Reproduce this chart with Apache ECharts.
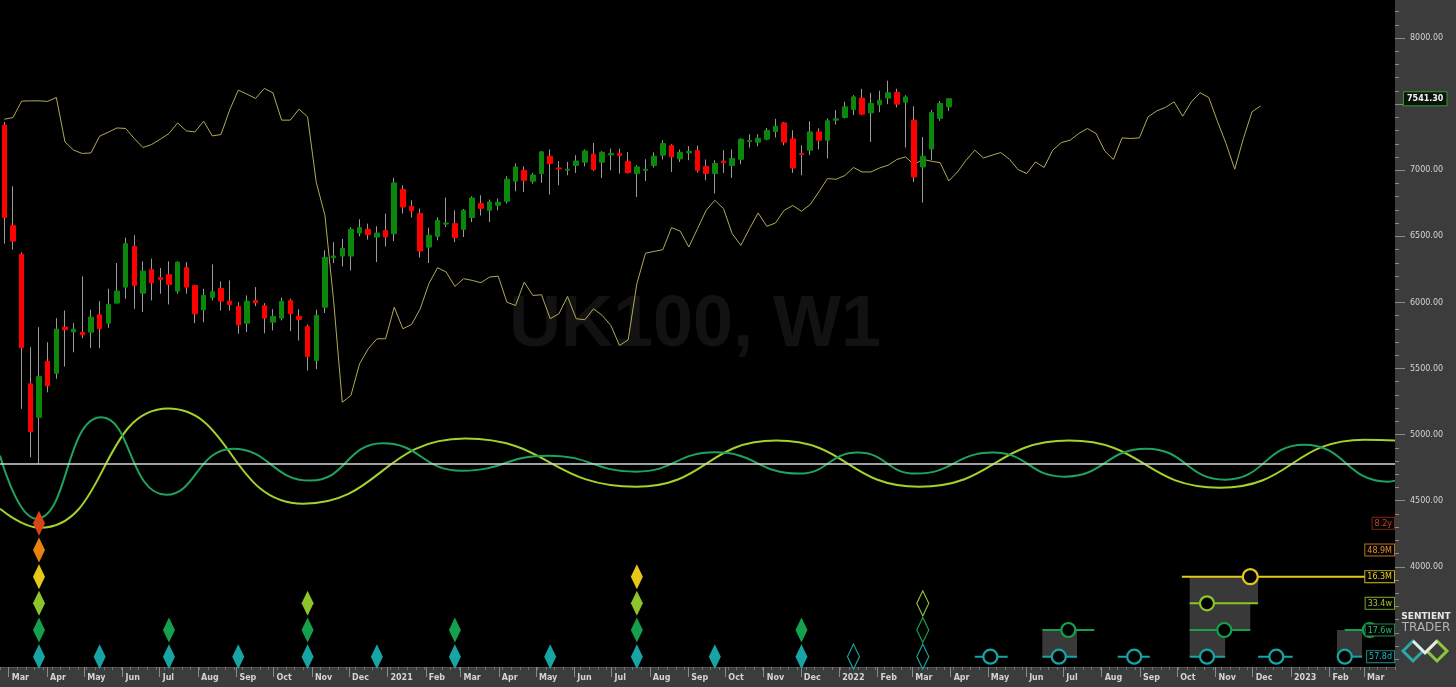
<!DOCTYPE html>
<html><head><meta charset="utf-8">
<script src="https://cdn.jsdelivr.net/npm/echarts@6/dist/echarts.min.js"></script>
<style>html,body{margin:0;padding:0;background:#000;overflow:hidden}#c{width:1456px;height:687px}</style>
</head><body><div id="c"></div>
<script>
// ---------- DATA ----------
const startDate = Date.UTC(2020, 1, 23); // first weekly bar (week of 23 Feb 2020)
const weekCount = 161;

const opens = [7341,6581,6364,5384,5131,5555,5464,5813,5778,5775,
5775,5907,5843,5995,6116,6424,6070,6248,6187,6210,
6086,6263,6127,5945,6038,6106,6010,5970,5843,6015,
5975,5851,5881,6013,5896,5818,5561,5964,6339,6351,
6351,6525,6553,6495,6545,6520,6854,6727,6672,6419,
6500,6593,6596,6553,6642,6748,6697,6735,6765,6917,
7000,6917,6975,7106,7017,7000,7036,7061,7121,7061,
7116,7127,7068,6975,7000,7036,7114,7187,7086,7131,
7149,7030,6975,7070,7036,7083,7217,7212,7235,7293,
7358,7237,7127,7152,7290,7227,7379,7399,7460,7546,
7434,7495,7546,7589,7515,7379,7025,7161,7392,7480];
const closes = [6642,6464,5657,5023,5439,5369,5798,5793,5798,5755,
5889,5801,5985,6086,6445,6129,6237,6149,6174,6136,
6305,6116,5914,6053,6081,6010,5983,5831,6010,5998,
5881,5894,6008,5914,5871,5591,5902,6341,6351,6409,
6553,6566,6513,6525,6495,6904,6722,6692,6389,6508,
6621,6601,6490,6697,6790,6712,6760,6758,6932,7025,
6924,6964,7139,7051,7010,7008,7070,7146,7005,7136,
7127,7111,6983,7025,7008,7106,7202,7101,7136,7142,
7000,6975,7051,7058,7089,7235,7225,7242,7301,7333,
7212,7017,7119,7290,7227,7374,7389,7480,7555,7424,
7505,7530,7586,7500,7555,6949,7106,7437,7505,7541.3];
const highs = [7364,6879,6379,5661,5813,5699,5881,5939,5843,6197,
5945,6010,6104,6298,6490,6508,6311,6331,6260,6311,
6311,6305,6129,6104,6288,6159,6167,6002,6053,6116,
5995,5949,6036,6028,5949,5833,5945,6394,6457,6480,
6568,6629,6596,6576,6672,6942,6886,6773,6710,6566,
6644,6793,6697,6707,6803,6811,6778,6786,6955,7051,
7030,6980,7146,7157,7070,7063,7114,7157,7207,7144,
7164,7164,7139,7038,7083,7136,7227,7197,7157,7182,
7187,7081,7076,7152,7157,7242,7273,7273,7320,7389,
7366,7303,7189,7371,7318,7392,7455,7518,7568,7616,
7586,7601,7677,7616,7568,7485,7252,7455,7523,7546];
const lows = [6445,6399,5195,4828,4778,5320,5422,5515,5623,5730,
5654,5654,5808,5992,6028,5952,5927,6015,6066,5985,
6066,6066,5843,5851,6015,5939,5939,5763,5775,5972,
5767,5788,5864,5783,5712,5485,5495,5920,6298,6273,
6242,6500,6475,6305,6424,6464,6672,6642,6339,6298,
6470,6571,6457,6495,6608,6657,6608,6697,6748,6841,
6836,6899,6904,6816,6886,6962,6980,7030,6995,6942,
7000,6975,6975,6798,6919,7021,7081,6987,7063,7076,
6983,6924,6824,6980,6942,7045,7172,7182,7227,7248,
7189,6980,6962,7114,7157,7089,7346,7392,7417,7417,
7214,7439,7500,7475,7172,6911,6755,7076,7374,7449];

// thin khaki projection line (one value per week)
const projLine = [7386,7399,7523,7525,7525,7521,7551,7214,7152,7127,
7131,7258,7288,7320,7316,7240,7172,7195,7235,7278,
7358,7298,7290,7371,7260,7270,7455,7606,7576,7543,
7619,7586,7379,7379,7462,7404,6909,6659,6015,5245,
5296,5536,5649,5725,5725,5964,5801,5833,5952,6142,
6263,6230,6121,6180,6167,6149,6192,6199,6002,5977,
6154,6053,6058,5877,5914,6045,5877,5869,5952,5902,
5826,5674,5717,6142,6373,6386,6399,6566,6540,6419,
6558,6697,6773,6710,6520,6432,6558,6677,6576,6601,
6697,6733,6690,6740,6836,6937,6932,6960,7021,6987,
6987,7017,7038,7081,7101,7043,7083,7068,7058,6919,
6987,7076,7152,7093,7114,7134,7083,7005,6975,7063,
7021,7152,7210,7227,7278,7316,7278,7146,7081,7245,
7240,7245,7404,7449,7475,7518,7409,7518,7586,7551,
7371,7202,7008,7240,7442,7487];

// cycle curves: [week, level] peaks and troughs
const cycle334w = [[-0.5,4439],[4.1,4295],[18.9,5197],[34.5,4477],[53.2,4970],[72.9,4606],[89.1,4955],[105.6,4606],[122.9,4955],[140.3,4598],[157.0,4962],[160.5,4955]];
const cycle176w = [[-0.5,4841],[3.7,4364],[11.2,5131],[18.7,4545],[26.4,4894],[35.3,4652],[43.7,4934],[52.8,4727],[62.8,4841],[72.9,4720],[82.0,4866],[91.7,4705],[98.5,4864],[105.2,4705],[114.1,4864],[122.3,4682],[131.8,4894],[140.9,4659],[150.0,4924],[159.7,4644],[160.5,4652]];
const cycleZero = 4780;

// price axis
const priceMin = 3242, priceMax = 8288;
const priceLabels = [4000,4500,5000,5500,6000,6500,7000,7500,8000];
const priceMinorTicks = [3300,3400,3500,3600,3700,3800,3900,4000,4100,4200,4300,4400,4500,4600,4700,4800,4900,5000,
  5100,5200,5300,5400,5500,5600,5700,5800,5900,6000,6100,6200,6300,6400,6500,6600,6700,6800,6900,7000,
  7100,7200,7300,7400,7500,7600,7700,7800,7900,8000,8100,8200];

// cycle rows
const cycleNames = ['8.2y','48.9M','16.3M','33.4w','17.6w','57.8d'];
const cycleColors = ['#d8431a','#e8820f','#e6c81a','#8cc42a','#14a04c','#18a4a4'];
const labelText = ['#c8441c','#e8902a','#e8d020','#9ccc30','#2ab866','#22b4b4'];
const labelBorder = ['#7a2412','#b8741c','#c8b018','#78a828','#1c8a4c','#1a8a8a'];

// trough diamonds (week index) per cycle row
const troughs = {
  '8.2y':[4], '48.9M':[4], '16.3M':[4,73], '33.4w':[4,35,73],
  '17.6w':[4,19,35,52,73,92], '57.8d':[4,11,19,27,35,43,52,63,73,82,92]
};
const troughsHollow = {'33.4w':[106], '17.6w':[106], '57.8d':[98,106]};

// projected troughs: [centre, from, to] in week units
const projected = {
  '16.3M':[[143.8,135.9,160.5]],
  '33.4w':[[138.8,136.8,144.7]],
  '17.6w':[[122.8,119.8,125.8],[140.8,136.8,143.8],[157.6,154.7,160.5]],
  '57.8d':[[113.8,112.0,115.8],[121.7,119.8,123.8],[130.4,128.5,132.2],[138.8,136.8,140.9],[146.8,144.7,148.7],[154.7,153.8,156.7]]
};
// shaded projection boxes: [upper row, lower row, from, to]
const projBoxes = [
  ['16.3M','33.4w',136.8,144.7],
  ['33.4w','17.6w',136.8,143.8],
  ['17.6w','57.8d',136.8,140.9],
  ['17.6w','57.8d',153.8,156.7],
  ['17.6w','57.8d',119.8,123.8]
];
const monthNames = ['Jan','Feb','Mar','Apr','May','Jun','Jul','Aug','Sep','Oct','Nov','Dec'];

// ---------- BUILD ----------
const DAY = 86400000;
const weekLabels = Array.from({length: weekCount}, (_, i) => new Date(startDate + i*7*DAY).toISOString().slice(0,10));
const monthStarts = [];
for (let y = 2020, m = 2; ; ) {
  const d = (Date.UTC(y, m, 1) - startDate) / DAY;
  if (d > weekCount*7) break;
  monthStarts.push(d);
  m++; if (m > 11) { m = 0; y++; }
}
const monthLabel = v => {
  const dt = new Date(startDate + Math.round(v)*DAY);
  return dt.getUTCMonth() === 0 ? String(dt.getUTCFullYear()) : monthNames[dt.getUTCMonth()];
};
const ohlc = opens.map((o, i) => [o, closes[i], lows[i], highs[i]]);
const bodies = opens.map((o, i) => [o, closes[i], Math.min(o, closes[i]), Math.max(o, closes[i])]);

const rich = {};
cycleNames.forEach((n, i) => {
  rich['c'+i] = {color: labelText[i], borderColor: labelBorder[i], borderWidth: 1, backgroundColor: '#050505',
    padding: [2,2,1,2], fontSize: 8, fontFamily: 'DejaVu Sans', lineHeight: 10};
});

const series = [];
series.push({type:'candlestick', name:'wicks', xAxisIndex:0, yAxisIndex:0, data: ohlc, barWidth:1, z:2,
  itemStyle:{color:'#9a9a9a', color0:'#9a9a9a', borderColor:'#9a9a9a', borderColor0:'#9a9a9a', borderWidth:1}});
series.push({type:'candlestick', name:'bodies', xAxisIndex:0, yAxisIndex:0, data: bodies, barWidth:5, z:5,
  itemStyle:{color:'#0b870b', color0:'#ff0000', borderColor:'#0b870b', borderColor0:'#ff0000', borderWidth:1},
  markLine:{silent:true, symbol:['none','none'], lineStyle:{width:1, color:'rgba(0,0,0,0)', type:'solid'},
    label:{show:true, position:'end', distance:9, formatter: p => Number(p.value).toFixed(2),
      color:'#f2f2f2', fontSize:8, fontFamily:'DejaVu Sans', fontWeight:'bold', backgroundColor:'#0a140a',
      borderColor:'#2f9a2f', borderWidth:1, padding:[3,3,2,3]},
    data:[{yAxis: closes[closes.length-1]}]}});
series.push({type:'line', name:'proj', xAxisIndex:0, yAxisIndex:0, data: projLine, symbol:'none', z:2,
  lineStyle:{color:'#b2a85a', width:1}});
series.push({type:'line', name:'zero', xAxisIndex:3, yAxisIndex:0, data: [], z:2,
  markLine:{silent:true, symbol:['none','none'], label:{show:false}, lineStyle:{color:'#d4d4d4', width:1.5, type:'solid'},
    data:[{yAxis: cycleZero}]}});
series.push({type:'line', name:'33.4w', xAxisIndex:3, yAxisIndex:0, data: cycle334w, smooth:0.5, symbol:'none', z:3,
  lineStyle:{color:'#a4d22c', width:2}});
series.push({type:'line', name:'17.6w', xAxisIndex:3, yAxisIndex:0, data: cycle176w, smooth:0.5, symbol:'none', z:3,
  lineStyle:{color:'#1ea35c', width:2}});
// projection boxes
series.push({type:'scatter', name:'boxes', xAxisIndex:2, yAxisIndex:2, data: [], z:1,
  markArea:{silent:true, itemStyle:{color:'#393939'},
    data: projBoxes.map(b => [{coord:[b[2], b[0]]}, {coord:[b[3], b[1]]}])}});
// projection ranges, circles and trough diamonds
cycleNames.forEach((n, ri) => {
  const list = projected[n] || [];
  list.forEach(p => {
    series.push({type:'line', xAxisIndex:2, yAxisIndex:2, data:[[p[1], n],[p[2], n]], symbol:'none', z:4,
      lineStyle:{color: cycleColors[ri], width:2}});
  });
  if (list.length) series.push({type:'scatter', xAxisIndex:2, yAxisIndex:2, data: list.map(p => [p[0], n]), z:5,
    symbol:'circle', symbolSize: n === '16.3M' ? 15 : 14,
    itemStyle:{color:'#000', borderColor: cycleColors[ri], borderWidth:2.2, opacity:1}});
  if (troughs[n]) series.push({type:'scatter', xAxisIndex:2, yAxisIndex:2, data: troughs[n].map(x => [x, n]), z:6,
    symbol:'diamond', symbolSize:[12,25], itemStyle:{color: cycleColors[ri], opacity:1}});
  if (troughsHollow[n]) series.push({type:'scatter', xAxisIndex:2, yAxisIndex:2, data: troughsHollow[n].map(x => [x, n]), z:6,
    symbol:'diamond', symbolSize:[12,25], itemStyle:{color:'rgba(0,0,0,0)', borderColor: cycleColors[ri], borderWidth:1.3, opacity:1}});
});

const option = {
  backgroundColor:'#000',
  animation:false,
  grid:[
    {left:0, right:61, top:0, bottom:20},
    {left:0, right:61, top:510, height:160}
  ],
  xAxis:[
    {type:'category', gridIndex:0, data: weekLabels, boundaryGap:true, position:'bottom', z:3,
      axisLine:{show:false, onZero:false}, axisTick:{show:true, interval:0, length:3, lineStyle:{color:'#767676'}},
      axisLabel:{show:false}, splitLine:{show:false}},
    {type:'value', gridIndex:0, min:0, max: weekCount*7, position:'bottom', z:3,
      axisLine:{show:true, onZero:false, lineStyle:{color:'#555'}},
      axisTick:{show:true, customValues: monthStarts, length:10, lineStyle:{color:'#8a8a8a'}},
      axisLabel:{show:true, customValues: monthStarts, formatter: monthLabel, align:'left', padding:[0,0,0,3], margin:7,
        color:'#d4d4d4', fontSize:8, fontWeight:'bold', fontFamily:'DejaVu Sans'},
      splitLine:{show:false}},
    {type:'value', gridIndex:1, show:false, min:-0.5, max: weekCount-0.5, axisLine:{onZero:false}},
    {type:'value', gridIndex:0, show:false, min:-0.5, max: weekCount-0.5, axisLine:{onZero:false}}
  ],
  yAxis:[
    {type:'value', gridIndex:0, show:false, min:priceMin, max:priceMax, axisLine:{onZero:false}},
    {type:'value', gridIndex:0, position:'right', offset:0, min:priceMin, max:priceMax, z:2,
      axisLine:{show:false, onZero:false},
      axisTick:{show:true, customValues: priceMinorTicks, length:4, lineStyle:{color:'#8a8a8a'}},
      axisLabel:{show:false}, splitLine:{show:false}},
    {type:'category', gridIndex:1, data: cycleNames, inverse:true, position:'right', z:8,
      axisLine:{show:false, onZero:false}, axisTick:{show:false}, splitLine:{show:false},
      axisLabel:{inside:true, margin:1, formatter:(v, i) => '{c'+i+'|'+v+'}', rich: rich}},
    {type:'value', gridIndex:0, position:'right', offset:0, min:priceMin, max:priceMax, z:2,
      axisLine:{show:false, onZero:false},
      axisTick:{show:true, customValues: priceLabels, length:10, lineStyle:{color:'#8a8a8a'}},
      axisLabel:{show:true, customValues: priceLabels, margin:15, color:'#d4d4d4', fontSize:8, fontFamily:'DejaVu Sans',
        formatter: v => Number(v).toFixed(2)},
      splitLine:{show:false}}
  ],
  graphic:[
    {type:'rect', z:0, silent:true, shape:{x:1395, y:0, width:61, height:687}, style:{fill:'#3c3c3c'}},
    {type:'rect', z:0, silent:true, shape:{x:0, y:667, width:1395, height:20}, style:{fill:'#3c3c3c'}},
    {type:'text', z:1, silent:true, style:{text:'UK100, W1', x:695, y:326, textAlign:'center', align:'center',
      textVerticalAlign:'middle', verticalAlign:'middle', font:'bold 72px "Liberation Sans", Arial, sans-serif', fill:'#121212'}},
    {type:'text', z:5, silent:true, style:{text:'SENTIENT', x:1426, y:617, textAlign:'center', align:'center',
      textVerticalAlign:'middle', verticalAlign:'middle', font:'bold 9px "DejaVu Sans"', fill:'#e6e6e6'}},
    {type:'text', z:5, silent:true, style:{text:'TRADER', x:1426, y:628, textAlign:'center', align:'center',
      textVerticalAlign:'middle', verticalAlign:'middle', font:'12px "DejaVu Sans"', fill:'#b4b4b4'}},
    {type:'polygon', z:5, silent:true, shape:{points:[[1413,641],[1423,651],[1413,661],[1403,651]]}, style:{fill:'none', stroke:'#2aa8a8', lineWidth:3}},
    {type:'polygon', z:5, silent:true, shape:{points:[[1437,641],[1447,651],[1437,661],[1427,651]]}, style:{fill:'none', stroke:'#8cc63f', lineWidth:3}},
    {type:'polyline', z:6, silent:true, shape:{points:[[1413,641],[1425,653],[1437,641]]}, style:{stroke:'#e8e8e8', lineWidth:3}}
  ],
  series: series
};
const chart = echarts.init(document.getElementById('c'), null, {renderer:'canvas', width:1456, height:687});
chart.setOption(option);
</script>
</body></html>
